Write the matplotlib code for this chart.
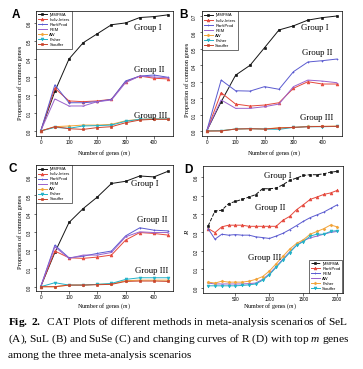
import matplotlib
matplotlib.use("Agg")
import matplotlib.pyplot as plt

# canvas size in px (dpi 100)
W, H = 363, 369

plt.rcParams['mathtext.fontset'] = 'custom'
plt.rcParams['mathtext.rm'] = 'Liberation Serif'
plt.rcParams['mathtext.bf'] = 'Liberation Serif:bold'
plt.rcParams['mathtext.it'] = 'Liberation Serif:italic'

# ---- data ----
genes_abc = [0, 50, 100, 150, 200, 250, 300, 350, 400, 450]
genes_d = [100, 200, 300, 400, 500, 600, 700, 800, 900, 1000,
           1100, 1200, 1300, 1400, 1500, 1600, 1700, 1800, 1900, 2000]

methods_abc = ["jMMFMA", "Indiv-Inters", "RankProd", "REM", "AW", "Fisher", "Stouffer"]
methods_d = ["jMMFMA", "RankProd", "REM", "AW", "Fisher", "Stouffer"]

# panel A (SeL)
jmmfma_a = [0.0, 0.22, 0.40, 0.49, 0.54, 0.59, 0.60, 0.63, 0.635, 0.645]
indiv_a = [0.0, 0.237, 0.167, 0.163, 0.167, 0.176, 0.274, 0.305, 0.293, 0.289]
rankprod_a = [0.0, 0.256, 0.157, 0.157, 0.163, 0.176, 0.278, 0.305, 0.311, 0.298]
rem_a = [0.0, 0.178, 0.139, 0.139, 0.163, 0.172, 0.269, 0.305, 0.300, 0.296]
aw_a = [0.0, 0.024, 0.028, 0.033, 0.033, 0.037, 0.057, 0.065, 0.067, 0.067]
fisher_a = [0.0, 0.020, 0.015, 0.028, 0.030, 0.033, 0.054, 0.065, 0.067, 0.067]
stouffer_a = [0.0, 0.024, 0.013, 0.009, 0.019, 0.024, 0.046, 0.061, 0.065, 0.065]

# panel B (SuL)
jmmfma_b = [0.0, 0.178, 0.34, 0.40, 0.507, 0.615, 0.64, 0.675, 0.69, 0.70]
indiv_b = [0.0, 0.233, 0.164, 0.152, 0.158, 0.172, 0.26, 0.30, 0.286, 0.286]
rankprod_b = [0.0, 0.31, 0.245, 0.243, 0.27, 0.254, 0.361, 0.42, 0.428, 0.438]
rem_b = [0.0, 0.189, 0.138, 0.138, 0.148, 0.164, 0.27, 0.31, 0.304, 0.294]
aw_b = [0.0, 0.002, 0.012, 0.014, 0.012, 0.02, 0.022, 0.028, 0.028, 0.03]
fisher_b = [0.0, 0.002, 0.012, 0.014, 0.012, 0.01, 0.022, 0.026, 0.026, 0.028]
stouffer_b = [0.0, 0.0, 0.012, 0.014, 0.012, 0.018, 0.022, 0.026, 0.028, 0.028]

# panel C (SuSe)
jmmfma_c = [0.0, 0.187, 0.351, 0.427, 0.49, 0.564, 0.576, 0.605, 0.60, 0.631]
indiv_c = [0.0, 0.195, 0.158, 0.155, 0.162, 0.173, 0.255, 0.296, 0.291, 0.282]
rankprod_c = [0.0, 0.227, 0.158, 0.167, 0.182, 0.195, 0.278, 0.322, 0.309, 0.305]
rem_c = [0.0, 0.218, 0.155, 0.173, 0.173, 0.187, 0.273, 0.30, 0.296, 0.296]
aw_c = [0.0, 0.0, 0.009, 0.009, 0.013, 0.015, 0.033, 0.036, 0.036, 0.036]
fisher_c = [0.0, 0.022, 0.009, 0.009, 0.013, 0.018, 0.040, 0.049, 0.049, 0.049]
stouffer_c = [0.0, 0.0, 0.009, 0.009, 0.011, 0.013, 0.029, 0.031, 0.031, 0.029]

# panel D (R vs m)
jmmfma_d = [0.335, 0.416, 0.42, 0.456, 0.468, 0.479, 0.492, 0.505, 0.537, 0.537,
            0.54, 0.559, 0.582, 0.595, 0.609, 0.613, 0.613, 0.618, 0.627, 0.631]
rankprod_d = [0.321, 0.299, 0.33, 0.339, 0.339, 0.339, 0.333, 0.333, 0.333, 0.333,
              0.333, 0.366, 0.387, 0.423, 0.45, 0.479, 0.492, 0.506, 0.514, 0.528]
rem_d = [0.32, 0.263, 0.29, 0.285, 0.288, 0.285, 0.285, 0.276, 0.272, 0.267,
         0.28, 0.295, 0.315, 0.337, 0.36, 0.38, 0.395, 0.41, 0.43, 0.45]
aw_d = [0.025, 0.02, 0.02, 0.02, 0.02, 0.02, 0.022, 0.025, 0.045, 0.075,
        0.115, 0.155, 0.195, 0.23, 0.255, 0.27, 0.28, 0.29, 0.30, 0.305]
fisher_d = [0.03, 0.025, 0.035, 0.03, 0.03, 0.03, 0.035, 0.045, 0.06, 0.09,
            0.13, 0.17, 0.21, 0.24, 0.26, 0.29, 0.305, 0.32, 0.34, 0.33]
stouffer_d = [0.01, 0.01, 0.01, 0.01, 0.01, 0.012, 0.015, 0.02, 0.04, 0.07,
              0.11, 0.15, 0.19, 0.23, 0.25, 0.28, 0.29, 0.29, 0.305, 0.31]

# ---- styles ----
BLACK = "#141414"
RED = "#e5483c"
BLUE = "#5b5bd0"
PURPLE = "#9a62cc"
ORANGE = "#f2a43a"
CYAN = "#22b2c8"
BROWN = "#c9442c"

style_abc = {
    "jMMFMA": dict(color=BLACK, marker="s", ls="-"),
    "Indiv-Inters": dict(color=RED, marker="^", ls="-"),
    "RankProd": dict(color=BLUE, marker="+", ls="-"),
    "REM": dict(color=PURPLE, marker="_", ls="-"),
    "AW": dict(color=ORANGE, marker="D", ls="-"),
    "Fisher": dict(color=CYAN, marker="v", ls="-"),
    "Stouffer": dict(color=BROWN, marker="s", ls="-"),
}
style_d = {
    "jMMFMA": dict(color=BLACK, marker="s", ls="--"),
    "RankProd": dict(color=RED, marker="^", ls="-"),
    "REM": dict(color=BLUE, marker="+", ls="-"),
    "AW": dict(color=PURPLE, marker="_", ls="-"),
    "Fisher": dict(color=ORANGE, marker="D", ls="-"),
    "Stouffer": dict(color=CYAN, marker="v", ls="-"),
}

SANS = "Liberation Sans"
SERIF = "Liberation Serif"

fig = plt.figure(figsize=(W / 100, H / 100), dpi=100)


def px_axes(l, t, r, b):
    return fig.add_axes([l / W, 1 - b / H, (r - l) / W, (b - t) / H])


def px_text(x, y, s, **kw):
    kw.setdefault("ha", "center")
    kw.setdefault("va", "center")
    fig.text(x / W, 1 - y / H, s, **kw)


def draw_panel(ax, x, series, names, styles, xlim, ylim, xticks, yticks, legend_loc):
    for name, y in zip(names, series):
        st = styles[name]
        ms = 1.4 if st["marker"] in ("s", "D") else 2.0
        ax.plot(x, y, color=st["color"], marker=st["marker"], ls=st["ls"],
                lw=0.7, ms=ms, mew=0.5, label=name)
    ax.set_xlim(*xlim)
    ax.set_ylim(*ylim)
    ax.set_xticks(xticks)
    ax.set_yticks(yticks)
    ax.set_yticklabels(["%.1f" % v for v in yticks])
    ax.tick_params(direction="out", length=1.8, width=0.4, labelsize=3.3, pad=1.2)
    ax.tick_params(axis="y", labelrotation=90)
    for lab in ax.get_xticklabels() + ax.get_yticklabels():
        lab.set_family(SANS)
    for sp in ax.spines.values():
        sp.set_linewidth(0.5)
    leg = ax.legend(loc=legend_loc, borderaxespad=0.0, frameon=True,
                    fancybox=False, edgecolor="black", handlelength=2.2, handletextpad=0.6,
                    labelspacing=0.25, borderpad=0.5, numpoints=1, prop={"family": SANS, "size": 3.0})
    leg.get_frame().set_linewidth(0.5)


yt = [0.0, 0.1, 0.2, 0.3, 0.4, 0.5, 0.6]

axA = px_axes(35.6, 10.5, 173.2, 135.7)
draw_panel(axA, genes_abc,
           [jmmfma_a, indiv_a, rankprod_a, rem_a, aw_a, fisher_a, stouffer_a],
           methods_abc, style_abc, (-18, 468), (-0.026, 0.669),
           [0, 100, 200, 300, 400], yt, "upper left")

axB = px_axes(201.5, 11.4, 342.0, 135.6)
draw_panel(axB, genes_abc,
           [jmmfma_b, indiv_b, rankprod_b, rem_b, aw_b, fisher_b, stouffer_b],
           methods_abc, style_abc, (-18, 468), (-0.028, 0.728),
           [0, 100, 200, 300, 400], yt + [0.7], "upper left")

axC = px_axes(35.6, 165.0, 173.2, 291.3)
draw_panel(axC, genes_abc,
           [jmmfma_c, indiv_c, rankprod_c, rem_c, aw_c, fisher_c, stouffer_c],
           methods_abc, style_abc, (-18, 468), (-0.025, 0.665),
           [0, 100, 200, 300, 400], yt, "upper left")

axD = px_axes(203.0, 165.5, 342.5, 293.0)
draw_panel(axD, genes_d,
           [jmmfma_d, rankprod_d, rem_d, aw_d, fisher_d, stouffer_d],
           methods_d, style_d, (24, 2076), (-0.029, 0.663),
           [500, 1000, 1500, 2000], yt, "lower right")

# panel letters
for s, x, y in [("A", 16, 15), ("B", 184, 15), ("C", 13, 169), ("D", 188, 170)]:
    px_text(x, y, s, fontsize=8.5, fontweight="bold", family=SANS)

# axis titles
ylab = "Proportion of common genes"
px_text(20, 83, ylab, rotation=90, fontsize=4.6, family=SERIF)
px_text(187, 80, ylab, rotation=90, fontsize=4.6, family=SERIF)
px_text(20, 232, ylab, rotation=90, fontsize=4.6, family=SERIF)
px_text(188, 233, "R", rotation=90, fontsize=5, family=SERIF, style="italic")
xlab = "Number of genes ($m$)"
px_text(104, 153.5, xlab, fontsize=4.4, family=SERIF)
px_text(274, 153.5, xlab, fontsize=4.4, family=SERIF)
px_text(104, 306.5, xlab, fontsize=4.4, family=SERIF)
px_text(270, 306.5, xlab, fontsize=4.4, family=SERIF)

# group annotations
groups = [
    ("Group I", 148, 28), ("Group II", 149, 70), ("Group III", 151, 116),
    ("Group I", 315, 28), ("Group II", 317, 53), ("Group III", 317, 118),
    ("Group I", 145, 184), ("Group II", 152, 220), ("Group III", 152, 271),
    ("Group I", 278, 176), ("Group II", 270, 208), ("Group III", 265, 258),
]
for s, x, y in groups:
    px_text(x, y, s, fontsize=6.3, family=SERIF)

# caption
cap = [
    r"$\mathbf{Fig.\ 2.}$  CAT Plots of different methods in meta-analysis scenarios of SeL",
    r"(A), SuL (B) and SuSe (C) and changing curves of R (D) with top $m$ genes",
    "among the three meta-analysis scenarios",
]
for line, y in zip(cap, [322, 339.5, 356]):
    px_text(7.5, y, line, ha="left", fontsize=8.2, family=SERIF)

fig.savefig("out.png", dpi=100)
